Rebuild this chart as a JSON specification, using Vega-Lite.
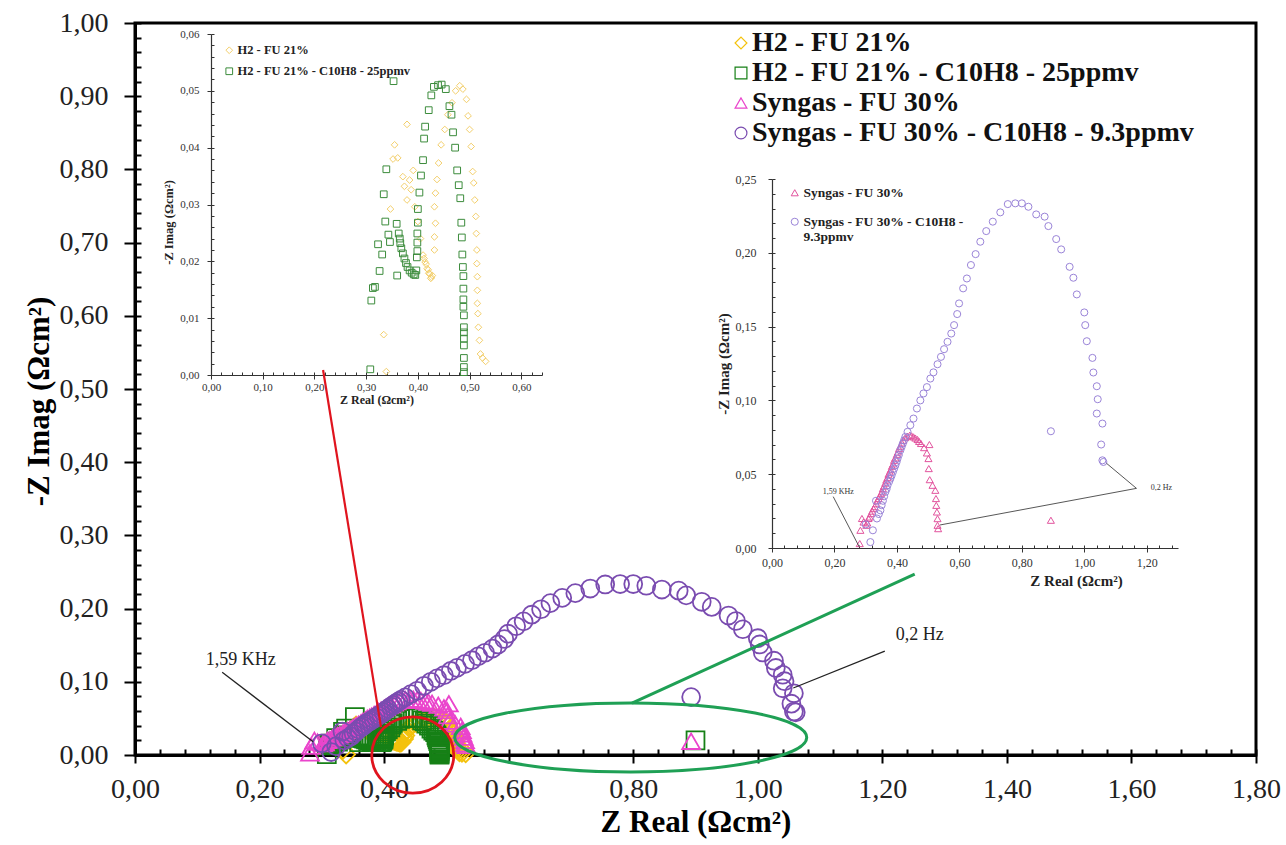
{
"$schema":"https://vega.github.io/schema/vega-lite/v6.json",
"width":1121,"height":732,
"autosize":"none",
"padding":{"left":135,"top":23,"right":30,"bottom":90},
"background":"white",
"config":{"view":{"stroke":"black","strokeWidth":3},"font":"Liberation Serif"},
"datasets":{
"eis":[
{"zr":0.334,"zi":0.0071,"s":"H2 - FU 21%"},{"zr":0.339,"zi":0.0006,"s":"H2 - FU 21%"},{"zr":0.347,"zi":0.0292,"s":"H2 - FU 21%"},{"zr":0.352,"zi":0.038,"s":"H2 - FU 21%"},{"zr":0.355,"zi":0.0405,"s":"H2 - FU 21%"},{"zr":0.361,"zi":0.0382,"s":"H2 - FU 21%"},{"zr":0.371,"zi":0.0349,"s":"H2 - FU 21%"},{"zr":0.374,"zi":0.0332,"s":"H2 - FU 21%"},{"zr":0.379,"zi":0.0441,"s":"H2 - FU 21%"},{"zr":0.379,"zi":0.0308,"s":"H2 - FU 21%"},{"zr":0.384,"zi":0.0343,"s":"H2 - FU 21%"},{"zr":0.387,"zi":0.0326,"s":"H2 - FU 21%"},{"zr":0.391,"zi":0.036,"s":"H2 - FU 21%"},{"zr":0.394,"zi":0.0296,"s":"H2 - FU 21%"},{"zr":0.4,"zi":0.027,"s":"H2 - FU 21%"},{"zr":0.405,"zi":0.024,"s":"H2 - FU 21%"},{"zr":0.41,"zi":0.0211,"s":"H2 - FU 21%"},{"zr":0.412,"zi":0.0205,"s":"H2 - FU 21%"},{"zr":0.414,"zi":0.0199,"s":"H2 - FU 21%"},{"zr":0.416,"zi":0.0195,"s":"H2 - FU 21%"},{"zr":0.418,"zi":0.0187,"s":"H2 - FU 21%"},{"zr":0.42,"zi":0.0185,"s":"H2 - FU 21%"},{"zr":0.421,"zi":0.0179,"s":"H2 - FU 21%"},{"zr":0.423,"zi":0.0178,"s":"H2 - FU 21%"},{"zr":0.425,"zi":0.017,"s":"H2 - FU 21%"},{"zr":0.426,"zi":0.0172,"s":"H2 - FU 21%"},{"zr":0.428,"zi":0.0175,"s":"H2 - FU 21%"},{"zr":0.432,"zi":0.022,"s":"H2 - FU 21%"},{"zr":0.432,"zi":0.0243,"s":"H2 - FU 21%"},{"zr":0.434,"zi":0.0267,"s":"H2 - FU 21%"},{"zr":0.432,"zi":0.0296,"s":"H2 - FU 21%"},{"zr":0.434,"zi":0.032,"s":"H2 - FU 21%"},{"zr":0.437,"zi":0.0344,"s":"H2 - FU 21%"},{"zr":0.44,"zi":0.0373,"s":"H2 - FU 21%"},{"zr":0.445,"zi":0.0405,"s":"H2 - FU 21%"},{"zr":0.452,"zi":0.0432,"s":"H2 - FU 21%"},{"zr":0.458,"zi":0.0458,"s":"H2 - FU 21%"},{"zr":0.466,"zi":0.0479,"s":"H2 - FU 21%"},{"zr":0.473,"zi":0.05,"s":"H2 - FU 21%"},{"zr":0.481,"zi":0.0509,"s":"H2 - FU 21%"},{"zr":0.487,"zi":0.0503,"s":"H2 - FU 21%"},{"zr":0.494,"zi":0.0485,"s":"H2 - FU 21%"},{"zr":0.497,"zi":0.0456,"s":"H2 - FU 21%"},{"zr":0.5,"zi":0.0432,"s":"H2 - FU 21%"},{"zr":0.503,"zi":0.0402,"s":"H2 - FU 21%"},{"zr":0.506,"zi":0.0358,"s":"H2 - FU 21%"},{"zr":0.508,"zi":0.0338,"s":"H2 - FU 21%"},{"zr":0.51,"zi":0.0308,"s":"H2 - FU 21%"},{"zr":0.512,"zi":0.0279,"s":"H2 - FU 21%"},{"zr":0.513,"zi":0.0249,"s":"H2 - FU 21%"},{"zr":0.514,"zi":0.022,"s":"H2 - FU 21%"},{"zr":0.514,"zi":0.0196,"s":"H2 - FU 21%"},{"zr":0.515,"zi":0.0173,"s":"H2 - FU 21%"},{"zr":0.515,"zi":0.0149,"s":"H2 - FU 21%"},{"zr":0.515,"zi":0.0126,"s":"H2 - FU 21%"},{"zr":0.516,"zi":0.0108,"s":"H2 - FU 21%"},{"zr":0.517,"zi":0.0084,"s":"H2 - FU 21%"},{"zr":0.519,"zi":0.0061,"s":"H2 - FU 21%"},{"zr":0.521,"zi":0.0037,"s":"H2 - FU 21%"},{"zr":0.525,"zi":0.003,"s":"H2 - FU 21%"},{"zr":0.531,"zi":0.0024,"s":"H2 - FU 21%"},
{"zr":0.308,"zi":0.001,"s":"H2 - FU 21% - C10H8 - 25ppmv"},{"zr":0.31,"zi":0.0131,"s":"H2 - FU 21% - C10H8 - 25ppmv"},{"zr":0.313,"zi":0.0153,"s":"H2 - FU 21% - C10H8 - 25ppmv"},{"zr":0.317,"zi":0.0155,"s":"H2 - FU 21% - C10H8 - 25ppmv"},{"zr":0.323,"zi":0.023,"s":"H2 - FU 21% - C10H8 - 25ppmv"},{"zr":0.326,"zi":0.0183,"s":"H2 - FU 21% - C10H8 - 25ppmv"},{"zr":0.331,"zi":0.0212,"s":"H2 - FU 21% - C10H8 - 25ppmv"},{"zr":0.334,"zi":0.0318,"s":"H2 - FU 21% - C10H8 - 25ppmv"},{"zr":0.337,"zi":0.027,"s":"H2 - FU 21% - C10H8 - 25ppmv"},{"zr":0.339,"zi":0.0362,"s":"H2 - FU 21% - C10H8 - 25ppmv"},{"zr":0.343,"zi":0.0247,"s":"H2 - FU 21% - C10H8 - 25ppmv"},{"zr":0.346,"zi":0.0234,"s":"H2 - FU 21% - C10H8 - 25ppmv"},{"zr":0.353,"zi":0.0517,"s":"H2 - FU 21% - C10H8 - 25ppmv"},{"zr":0.359,"zi":0.0266,"s":"H2 - FU 21% - C10H8 - 25ppmv"},{"zr":0.36,"zi":0.0175,"s":"H2 - FU 21% - C10H8 - 25ppmv"},{"zr":0.363,"zi":0.0249,"s":"H2 - FU 21% - C10H8 - 25ppmv"},{"zr":0.365,"zi":0.024,"s":"H2 - FU 21% - C10H8 - 25ppmv"},{"zr":0.366,"zi":0.0232,"s":"H2 - FU 21% - C10H8 - 25ppmv"},{"zr":0.368,"zi":0.0223,"s":"H2 - FU 21% - C10H8 - 25ppmv"},{"zr":0.371,"zi":0.0214,"s":"H2 - FU 21% - C10H8 - 25ppmv"},{"zr":0.374,"zi":0.0205,"s":"H2 - FU 21% - C10H8 - 25ppmv"},{"zr":0.377,"zi":0.0197,"s":"H2 - FU 21% - C10H8 - 25ppmv"},{"zr":0.38,"zi":0.019,"s":"H2 - FU 21% - C10H8 - 25ppmv"},{"zr":0.384,"zi":0.0184,"s":"H2 - FU 21% - C10H8 - 25ppmv"},{"zr":0.388,"zi":0.018,"s":"H2 - FU 21% - C10H8 - 25ppmv"},{"zr":0.392,"zi":0.0177,"s":"H2 - FU 21% - C10H8 - 25ppmv"},{"zr":0.395,"zi":0.0176,"s":"H2 - FU 21% - C10H8 - 25ppmv"},{"zr":0.397,"zi":0.0184,"s":"H2 - FU 21% - C10H8 - 25ppmv"},{"zr":0.398,"zi":0.0207,"s":"H2 - FU 21% - C10H8 - 25ppmv"},{"zr":0.399,"zi":0.0218,"s":"H2 - FU 21% - C10H8 - 25ppmv"},{"zr":0.399,"zi":0.0233,"s":"H2 - FU 21% - C10H8 - 25ppmv"},{"zr":0.399,"zi":0.0249,"s":"H2 - FU 21% - C10H8 - 25ppmv"},{"zr":0.4,"zi":0.0268,"s":"H2 - FU 21% - C10H8 - 25ppmv"},{"zr":0.4,"zi":0.0292,"s":"H2 - FU 21% - C10H8 - 25ppmv"},{"zr":0.403,"zi":0.0321,"s":"H2 - FU 21% - C10H8 - 25ppmv"},{"zr":0.406,"zi":0.0351,"s":"H2 - FU 21% - C10H8 - 25ppmv"},{"zr":0.41,"zi":0.0378,"s":"H2 - FU 21% - C10H8 - 25ppmv"},{"zr":0.412,"zi":0.0416,"s":"H2 - FU 21% - C10H8 - 25ppmv"},{"zr":0.414,"zi":0.0437,"s":"H2 - FU 21% - C10H8 - 25ppmv"},{"zr":0.421,"zi":0.0466,"s":"H2 - FU 21% - C10H8 - 25ppmv"},{"zr":0.426,"zi":0.0492,"s":"H2 - FU 21% - C10H8 - 25ppmv"},{"zr":0.431,"zi":0.0507,"s":"H2 - FU 21% - C10H8 - 25ppmv"},{"zr":0.439,"zi":0.051,"s":"H2 - FU 21% - C10H8 - 25ppmv"},{"zr":0.446,"zi":0.0511,"s":"H2 - FU 21% - C10H8 - 25ppmv"},{"zr":0.454,"zi":0.0503,"s":"H2 - FU 21% - C10H8 - 25ppmv"},{"zr":0.461,"zi":0.0473,"s":"H2 - FU 21% - C10H8 - 25ppmv"},{"zr":0.465,"zi":0.0458,"s":"H2 - FU 21% - C10H8 - 25ppmv"},{"zr":0.468,"zi":0.0427,"s":"H2 - FU 21% - C10H8 - 25ppmv"},{"zr":0.472,"zi":0.04,"s":"H2 - FU 21% - C10H8 - 25ppmv"},{"zr":0.476,"zi":0.036,"s":"H2 - FU 21% - C10H8 - 25ppmv"},{"zr":0.479,"zi":0.0334,"s":"H2 - FU 21% - C10H8 - 25ppmv"},{"zr":0.482,"zi":0.0311,"s":"H2 - FU 21% - C10H8 - 25ppmv"},{"zr":0.484,"zi":0.0268,"s":"H2 - FU 21% - C10H8 - 25ppmv"},{"zr":0.485,"zi":0.0242,"s":"H2 - FU 21% - C10H8 - 25ppmv"},{"zr":0.486,"zi":0.0212,"s":"H2 - FU 21% - C10H8 - 25ppmv"},{"zr":0.487,"zi":0.019,"s":"H2 - FU 21% - C10H8 - 25ppmv"},{"zr":0.488,"zi":0.0174,"s":"H2 - FU 21% - C10H8 - 25ppmv"},{"zr":0.488,"zi":0.0152,"s":"H2 - FU 21% - C10H8 - 25ppmv"},{"zr":0.488,"zi":0.0133,"s":"H2 - FU 21% - C10H8 - 25ppmv"},{"zr":0.488,"zi":0.012,"s":"H2 - FU 21% - C10H8 - 25ppmv"},{"zr":0.489,"zi":0.0105,"s":"H2 - FU 21% - C10H8 - 25ppmv"},{"zr":0.489,"zi":0.0084,"s":"H2 - FU 21% - C10H8 - 25ppmv"},{"zr":0.489,"zi":0.0075,"s":"H2 - FU 21% - C10H8 - 25ppmv"},{"zr":0.489,"zi":0.0064,"s":"H2 - FU 21% - C10H8 - 25ppmv"},{"zr":0.489,"zi":0.0052,"s":"H2 - FU 21% - C10H8 - 25ppmv"},{"zr":0.489,"zi":0.003,"s":"H2 - FU 21% - C10H8 - 25ppmv"},{"zr":0.489,"zi":0.0014,"s":"H2 - FU 21% - C10H8 - 25ppmv"},{"zr":0.489,"zi":0.0005,"s":"H2 - FU 21% - C10H8 - 25ppmv"},{"zr":0.9,"zi":0.02,"s":"H2 - FU 21% - C10H8 - 25ppmv"},
{"zr":0.281,"zi":0.003,"s":"Syngas - FU 30%"},{"zr":0.283,"zi":0.012,"s":"Syngas - FU 30%"},{"zr":0.288,"zi":0.02,"s":"Syngas - FU 30%"},{"zr":0.293,"zi":0.0176,"s":"Syngas - FU 30%"},{"zr":0.302,"zi":0.0154,"s":"Syngas - FU 30%"},{"zr":0.305,"zi":0.017,"s":"Syngas - FU 30%"},{"zr":0.309,"zi":0.02,"s":"Syngas - FU 30%"},{"zr":0.313,"zi":0.021,"s":"Syngas - FU 30%"},{"zr":0.317,"zi":0.0233,"s":"Syngas - FU 30%"},{"zr":0.321,"zi":0.025,"s":"Syngas - FU 30%"},{"zr":0.325,"zi":0.0267,"s":"Syngas - FU 30%"},{"zr":0.329,"zi":0.028,"s":"Syngas - FU 30%"},{"zr":0.334,"zi":0.03,"s":"Syngas - FU 30%"},{"zr":0.337,"zi":0.032,"s":"Syngas - FU 30%"},{"zr":0.341,"zi":0.0335,"s":"Syngas - FU 30%"},{"zr":0.345,"zi":0.035,"s":"Syngas - FU 30%"},{"zr":0.349,"zi":0.0368,"s":"Syngas - FU 30%"},{"zr":0.352,"zi":0.038,"s":"Syngas - FU 30%"},{"zr":0.355,"zi":0.0402,"s":"Syngas - FU 30%"},{"zr":0.359,"zi":0.042,"s":"Syngas - FU 30%"},{"zr":0.363,"zi":0.044,"s":"Syngas - FU 30%"},{"zr":0.366,"zi":0.046,"s":"Syngas - FU 30%"},{"zr":0.37,"zi":0.0477,"s":"Syngas - FU 30%"},{"zr":0.373,"zi":0.05,"s":"Syngas - FU 30%"},{"zr":0.377,"zi":0.0515,"s":"Syngas - FU 30%"},{"zr":0.38,"zi":0.053,"s":"Syngas - FU 30%"},{"zr":0.384,"zi":0.0554,"s":"Syngas - FU 30%"},{"zr":0.388,"zi":0.057,"s":"Syngas - FU 30%"},{"zr":0.391,"zi":0.0594,"s":"Syngas - FU 30%"},{"zr":0.395,"zi":0.061,"s":"Syngas - FU 30%"},{"zr":0.4,"zi":0.0635,"s":"Syngas - FU 30%"},{"zr":0.403,"zi":0.065,"s":"Syngas - FU 30%"},{"zr":0.407,"zi":0.0674,"s":"Syngas - FU 30%"},{"zr":0.411,"zi":0.069,"s":"Syngas - FU 30%"},{"zr":0.416,"zi":0.0712,"s":"Syngas - FU 30%"},{"zr":0.42,"zi":0.073,"s":"Syngas - FU 30%"},{"zr":0.427,"zi":0.0748,"s":"Syngas - FU 30%"},{"zr":0.434,"zi":0.0758,"s":"Syngas - FU 30%"},{"zr":0.441,"zi":0.0764,"s":"Syngas - FU 30%"},{"zr":0.447,"zi":0.076,"s":"Syngas - FU 30%"},{"zr":0.453,"zi":0.0753,"s":"Syngas - FU 30%"},{"zr":0.459,"zi":0.0745,"s":"Syngas - FU 30%"},{"zr":0.466,"zi":0.0735,"s":"Syngas - FU 30%"},{"zr":0.471,"zi":0.0722,"s":"Syngas - FU 30%"},{"zr":0.477,"zi":0.0708,"s":"Syngas - FU 30%"},{"zr":0.487,"zi":0.068,"s":"Syngas - FU 30%"},{"zr":0.496,"zi":0.0644,"s":"Syngas - FU 30%"},{"zr":0.504,"zi":0.0701,"s":"Syngas - FU 30%"},{"zr":0.501,"zi":0.0606,"s":"Syngas - FU 30%"},{"zr":0.502,"zi":0.0538,"s":"Syngas - FU 30%"},{"zr":0.505,"zi":0.0463,"s":"Syngas - FU 30%"},{"zr":0.514,"zi":0.0425,"s":"Syngas - FU 30%"},{"zr":0.523,"zi":0.0391,"s":"Syngas - FU 30%"},{"zr":0.525,"zi":0.0335,"s":"Syngas - FU 30%"},{"zr":0.526,"zi":0.0289,"s":"Syngas - FU 30%"},{"zr":0.528,"zi":0.0244,"s":"Syngas - FU 30%"},{"zr":0.53,"zi":0.0199,"s":"Syngas - FU 30%"},{"zr":0.53,"zi":0.0154,"s":"Syngas - FU 30%"},{"zr":0.532,"zi":0.0131,"s":"Syngas - FU 30%"},{"zr":0.893,"zi":0.0188,"s":"Syngas - FU 30%"},
{"zr":0.3,"zi":0.016,"s":"Syngas - FU 30% - C10H8 - 9.3ppmv"},{"zr":0.315,"zi":0.004,"s":"Syngas - FU 30% - C10H8 - 9.3ppmv"},{"zr":0.323,"zi":0.012,"s":"Syngas - FU 30% - C10H8 - 9.3ppmv"},{"zr":0.333,"zi":0.032,"s":"Syngas - FU 30% - C10H8 - 9.3ppmv"},{"zr":0.336,"zi":0.02,"s":"Syngas - FU 30% - C10H8 - 9.3ppmv"},{"zr":0.342,"zi":0.023,"s":"Syngas - FU 30% - C10H8 - 9.3ppmv"},{"zr":0.347,"zi":0.0255,"s":"Syngas - FU 30% - C10H8 - 9.3ppmv"},{"zr":0.351,"zi":0.029,"s":"Syngas - FU 30% - C10H8 - 9.3ppmv"},{"zr":0.355,"zi":0.032,"s":"Syngas - FU 30% - C10H8 - 9.3ppmv"},{"zr":0.359,"zi":0.035,"s":"Syngas - FU 30% - C10H8 - 9.3ppmv"},{"zr":0.363,"zi":0.038,"s":"Syngas - FU 30% - C10H8 - 9.3ppmv"},{"zr":0.367,"zi":0.04,"s":"Syngas - FU 30% - C10H8 - 9.3ppmv"},{"zr":0.37,"zi":0.0425,"s":"Syngas - FU 30% - C10H8 - 9.3ppmv"},{"zr":0.375,"zi":0.045,"s":"Syngas - FU 30% - C10H8 - 9.3ppmv"},{"zr":0.379,"zi":0.047,"s":"Syngas - FU 30% - C10H8 - 9.3ppmv"},{"zr":0.383,"zi":0.0492,"s":"Syngas - FU 30% - C10H8 - 9.3ppmv"},{"zr":0.387,"zi":0.0515,"s":"Syngas - FU 30% - C10H8 - 9.3ppmv"},{"zr":0.391,"zi":0.0538,"s":"Syngas - FU 30% - C10H8 - 9.3ppmv"},{"zr":0.395,"zi":0.056,"s":"Syngas - FU 30% - C10H8 - 9.3ppmv"},{"zr":0.399,"zi":0.0583,"s":"Syngas - FU 30% - C10H8 - 9.3ppmv"},{"zr":0.402,"zi":0.0606,"s":"Syngas - FU 30% - C10H8 - 9.3ppmv"},{"zr":0.406,"zi":0.063,"s":"Syngas - FU 30% - C10H8 - 9.3ppmv"},{"zr":0.411,"zi":0.0662,"s":"Syngas - FU 30% - C10H8 - 9.3ppmv"},{"zr":0.415,"zi":0.0685,"s":"Syngas - FU 30% - C10H8 - 9.3ppmv"},{"zr":0.419,"zi":0.0708,"s":"Syngas - FU 30% - C10H8 - 9.3ppmv"},{"zr":0.423,"zi":0.073,"s":"Syngas - FU 30% - C10H8 - 9.3ppmv"},{"zr":0.427,"zi":0.0753,"s":"Syngas - FU 30% - C10H8 - 9.3ppmv"},{"zr":0.434,"zi":0.0787,"s":"Syngas - FU 30% - C10H8 - 9.3ppmv"},{"zr":0.443,"zi":0.0832,"s":"Syngas - FU 30% - C10H8 - 9.3ppmv"},{"zr":0.453,"zi":0.0877,"s":"Syngas - FU 30% - C10H8 - 9.3ppmv"},{"zr":0.464,"zi":0.0945,"s":"Syngas - FU 30% - C10H8 - 9.3ppmv"},{"zr":0.475,"zi":0.1,"s":"Syngas - FU 30% - C10H8 - 9.3ppmv"},{"zr":0.485,"zi":0.1047,"s":"Syngas - FU 30% - C10H8 - 9.3ppmv"},{"zr":0.496,"zi":0.109,"s":"Syngas - FU 30% - C10H8 - 9.3ppmv"},{"zr":0.507,"zi":0.1148,"s":"Syngas - FU 30% - C10H8 - 9.3ppmv"},{"zr":0.517,"zi":0.119,"s":"Syngas - FU 30% - C10H8 - 9.3ppmv"},{"zr":0.53,"zi":0.1245,"s":"Syngas - FU 30% - C10H8 - 9.3ppmv"},{"zr":0.541,"zi":0.1295,"s":"Syngas - FU 30% - C10H8 - 9.3ppmv"},{"zr":0.551,"zi":0.1347,"s":"Syngas - FU 30% - C10H8 - 9.3ppmv"},{"zr":0.562,"zi":0.1397,"s":"Syngas - FU 30% - C10H8 - 9.3ppmv"},{"zr":0.574,"zi":0.1453,"s":"Syngas - FU 30% - C10H8 - 9.3ppmv"},{"zr":0.583,"zi":0.151,"s":"Syngas - FU 30% - C10H8 - 9.3ppmv"},{"zr":0.593,"zi":0.1585,"s":"Syngas - FU 30% - C10H8 - 9.3ppmv"},{"zr":0.599,"zi":0.1657,"s":"Syngas - FU 30% - C10H8 - 9.3ppmv"},{"zr":0.612,"zi":0.1759,"s":"Syngas - FU 30% - C10H8 - 9.3ppmv"},{"zr":0.624,"zi":0.1826,"s":"Syngas - FU 30% - C10H8 - 9.3ppmv"},{"zr":0.637,"zi":0.1917,"s":"Syngas - FU 30% - C10H8 - 9.3ppmv"},{"zr":0.652,"zi":0.1991,"s":"Syngas - FU 30% - C10H8 - 9.3ppmv"},{"zr":0.667,"zi":0.2075,"s":"Syngas - FU 30% - C10H8 - 9.3ppmv"},{"zr":0.686,"zi":0.2147,"s":"Syngas - FU 30% - C10H8 - 9.3ppmv"},{"zr":0.707,"zi":0.2211,"s":"Syngas - FU 30% - C10H8 - 9.3ppmv"},{"zr":0.731,"zi":0.2274,"s":"Syngas - FU 30% - C10H8 - 9.3ppmv"},{"zr":0.755,"zi":0.233,"s":"Syngas - FU 30% - C10H8 - 9.3ppmv"},{"zr":0.779,"zi":0.2335,"s":"Syngas - FU 30% - C10H8 - 9.3ppmv"},{"zr":0.8,"zi":0.2335,"s":"Syngas - FU 30% - C10H8 - 9.3ppmv"},{"zr":0.821,"zi":0.2312,"s":"Syngas - FU 30% - C10H8 - 9.3ppmv"},{"zr":0.846,"zi":0.226,"s":"Syngas - FU 30% - C10H8 - 9.3ppmv"},{"zr":0.873,"zi":0.2245,"s":"Syngas - FU 30% - C10H8 - 9.3ppmv"},{"zr":0.885,"zi":0.2181,"s":"Syngas - FU 30% - C10H8 - 9.3ppmv"},{"zr":0.91,"zi":0.2093,"s":"Syngas - FU 30% - C10H8 - 9.3ppmv"},{"zr":0.926,"zi":0.2023,"s":"Syngas - FU 30% - C10H8 - 9.3ppmv"},{"zr":0.953,"zi":0.1905,"s":"Syngas - FU 30% - C10H8 - 9.3ppmv"},{"zr":0.965,"zi":0.1831,"s":"Syngas - FU 30% - C10H8 - 9.3ppmv"},{"zr":0.976,"zi":0.1718,"s":"Syngas - FU 30% - C10H8 - 9.3ppmv"},{"zr":1.0,"zi":0.1596,"s":"Syngas - FU 30% - C10H8 - 9.3ppmv"},{"zr":1.003,"zi":0.151,"s":"Syngas - FU 30% - C10H8 - 9.3ppmv"},{"zr":1.008,"zi":0.1401,"s":"Syngas - FU 30% - C10H8 - 9.3ppmv"},{"zr":1.026,"zi":0.1288,"s":"Syngas - FU 30% - C10H8 - 9.3ppmv"},{"zr":1.029,"zi":0.1189,"s":"Syngas - FU 30% - C10H8 - 9.3ppmv"},{"zr":1.04,"zi":0.1096,"s":"Syngas - FU 30% - C10H8 - 9.3ppmv"},{"zr":1.043,"zi":0.1008,"s":"Syngas - FU 30% - C10H8 - 9.3ppmv"},{"zr":1.04,"zi":0.0911,"s":"Syngas - FU 30% - C10H8 - 9.3ppmv"},{"zr":1.058,"zi":0.0843,"s":"Syngas - FU 30% - C10H8 - 9.3ppmv"},{"zr":1.054,"zi":0.0701,"s":"Syngas - FU 30% - C10H8 - 9.3ppmv"},{"zr":1.058,"zi":0.0594,"s":"Syngas - FU 30% - C10H8 - 9.3ppmv"},{"zr":1.061,"zi":0.0583,"s":"Syngas - FU 30% - C10H8 - 9.3ppmv"},{"zr":0.893,"zi":0.0791,"s":"Syngas - FU 30% - C10H8 - 9.3ppmv"}
],
"leaders":[
{"x1":0.14,"y1":0.113,"x2":0.286,"y2":0.018,"p":"main"},
{"x1":1.204,"y1":0.142,"x2":1.057,"y2":0.0915,"p":"main"},
{"x1":0.196,"y1":0.0348,"x2":0.279,"y2":0.0009,"p":"inset2"},
{"x1":1.167,"y1":0.0404,"x2":1.071,"y2":0.0574,"p":"inset2"},
{"x1":1.167,"y1":0.0404,"x2":0.538,"y2":0.0156,"p":"inset2"}
],
"callouts":[
{"x1":0.302,"y1":0.526,"x2":0.395,"y2":0.038,"k":"red"},
{"x1":0.798,"y1":0.071,"x2":1.252,"y2":0.247,"k":"green"}
],
"ellipses":[
{"x":0.446,"y":0,"k":"red"},
{"x":0.796,"y":0.024,"k":"green"}
],
"notes":[
{"x":0.17,"y":0.13,"t":"1,59 KHz","p":"main"},
{"x":1.26,"y":0.164,"t":"0,2 Hz","p":"main"},
{"x":0.212,"y":0.0381,"t":"1,59 KHz","p":"inset2"},
{"x":1.247,"y":0.0409,"t":"0,2 Hz","p":"inset2"}
]
},
"layer":[
{
"layer":[
{
"data":{"name":"eis"},
"mark":{"type":"point","filled":false,"size":320,"strokeWidth":1.8,"opacity":1},
"encoding":{
"x":{"field":"zr","type":"quantitative","scale":{"domain":[0,1.8],"nice":false,"zero":false},
"axis":{"orient":"bottom","values":[0,0.2,0.4,0.6,0.8,1,1.2,1.4,1.6,1.8],
"labelExpr":"replace(format(datum.value,'.2f'),'.',',')",
"tickSize":8,"tickWidth":2,"tickColor":"black","domainColor":"black","domainWidth":3,"grid":false,
"labelFont":"Liberation Serif","labelFontSize":28,"labelColor":"#222","labelPadding":12,"labelFlush":false,"labelOverlap":false,
"title":"Z Real (Ωcm²)","titleFont":"Liberation Serif","titleFontSize":31,"titleFontWeight":"bold","titleColor":"black","titlePadding":4}},
"y":{"field":"zi","type":"quantitative","scale":{"domain":[0,1],"nice":false,"zero":false},
"axis":{"orient":"left","values":[0,0.1,0.2,0.3,0.4,0.5,0.6,0.7,0.8,0.9,1],
"labelExpr":"replace(format(datum.value,'.2f'),'.',',')",
"tickSize":11,"tickWidth":2,"tickColor":"black","domainColor":"black","domainWidth":3,"grid":false,
"labelFont":"Liberation Serif","labelFontSize":28,"labelColor":"#222","labelPadding":16,"labelFlush":false,"labelOverlap":false,
"title":"-Z Imag (Ωcm²)","titleY":378,"titleFont":"Liberation Serif","titleFontSize":31,"titleFontWeight":"bold","titleColor":"black","titlePadding":4}},
"color":{"field":"s","type":"nominal","scale":{"domain":["H2 - FU 21%","H2 - FU 21% - C10H8 - 25ppmv","Syngas - FU 30%","Syngas - FU 30% - C10H8 - 9.3ppmv"],"range":["#f4c20d","#168016","#ea45cc","#7a4cb0"]},
"legend":{"orient":"none","legendX":592,"legendY":6,"title":null,"padding":0,"labelFont":"Liberation Serif","labelFontSize":28,"labelFontWeight":"bold","labelColor":"#111","labelLimit":700,"symbolSize":140,"symbolStrokeWidth":1.2,"rowPadding":2,"labelOffset":-3}},
"shape":{"field":"s","type":"nominal","scale":{"domain":["H2 - FU 21%","H2 - FU 21% - C10H8 - 25ppmv","Syngas - FU 30%","Syngas - FU 30% - C10H8 - 9.3ppmv"],"range":["diamond","square","triangle-up","circle"]}}
}
},
{
"data":{"name":"callouts"},"transform":[{"filter":"datum.k=='red'"}],
"mark":{"type":"rule","color":"#e0141e","strokeWidth":2.2},
"encoding":{"x":{"field":"x1","type":"quantitative","scale":{"domain":[0,1.8],"nice":false,"zero":false}},"y":{"field":"y1","type":"quantitative","scale":{"domain":[0,1],"nice":false,"zero":false}},"x2":{"field":"x2"},"y2":{"field":"y2"}}
},
{
"data":{"name":"callouts"},"transform":[{"filter":"datum.k=='green'"}],
"mark":{"type":"rule","color":"#1fa055","strokeWidth":3},
"encoding":{"x":{"field":"x1","type":"quantitative","scale":{"domain":[0,1.8],"nice":false,"zero":false}},"y":{"field":"y1","type":"quantitative","scale":{"domain":[0,1],"nice":false,"zero":false}},"x2":{"field":"x2"},"y2":{"field":"y2"}}
},
{
"data":{"name":"leaders"},"transform":[{"filter":"datum.p=='main'"}],
"mark":{"type":"rule","color":"#222","strokeWidth":1.3},
"encoding":{"x":{"field":"x1","type":"quantitative","scale":{"domain":[0,1.8],"nice":false,"zero":false}},"y":{"field":"y1","type":"quantitative","scale":{"domain":[0,1],"nice":false,"zero":false}},"x2":{"field":"x2"},"y2":{"field":"y2"}}
},
{
"data":{"name":"ellipses"},"transform":[{"filter":"datum.k=='red'"}],
"mark":{"type":"point","shape":"M-1,0C-1,-0.514,-0.552,-0.93,0,-0.93C0.552,-0.93,1,-0.514,1,0C1,0.514,0.552,0.93,0,0.93C-0.552,0.93,-1,0.514,-1,0Z","size":6724,"filled":false,"stroke":"#e0141e","strokeWidth":2.8,"opacity":1,"clip":false},
"encoding":{"x":{"field":"x","type":"quantitative","scale":{"domain":[0,1.8],"nice":false,"zero":false}},"y":{"field":"y","type":"quantitative","scale":{"domain":[0,1],"nice":false,"zero":false}}}
},
{
"data":{"name":"ellipses"},"transform":[{"filter":"datum.k=='green'"}],
"mark":{"type":"point","shape":"M-1,0C-1,-0.108,-0.552,-0.196,0,-0.196C0.552,-0.196,1,-0.108,1,0C1,0.108,0.552,0.196,0,0.196C-0.552,0.196,-1,0.108,-1,0Z","size":123904,"filled":false,"stroke":"#1fa055","strokeWidth":3,"opacity":1,"clip":false},
"encoding":{"x":{"field":"x","type":"quantitative","scale":{"domain":[0,1.8],"nice":false,"zero":false}},"y":{"field":"y","type":"quantitative","scale":{"domain":[0,1],"nice":false,"zero":false}}}
},
{
"data":{"name":"notes"},"transform":[{"filter":"datum.p=='main'"}],
"mark":{"type":"text","font":"Liberation Serif","fontSize":18,"color":"#222"},
"encoding":{"x":{"field":"x","type":"quantitative","scale":{"domain":[0,1.8],"nice":false,"zero":false}},"y":{"field":"y","type":"quantitative","scale":{"domain":[0,1],"nice":false,"zero":false}},"text":{"field":"t"}}
}
]
},
{
"mark":{"type":"point","opacity":0},
"encoding":{
"x":{"datum":0,"type":"quantitative","scale":{"domain":[0,1.8],"nice":false,"zero":false},"axis":{"orient":"bottom","values":[0,0.04,0.08,0.12,0.16,0.2,0.24,0.28,0.32,0.36,0.4,0.44,0.48,0.52,0.56,0.6,0.64,0.68,0.72,0.76,0.8,0.84,0.88,0.92,0.96,1,1.04,1.08,1.12,1.16,1.2,1.24,1.28,1.32,1.36,1.4,1.44,1.48,1.52,1.56,1.6,1.64,1.68,1.72,1.76,1.8],"labels":false,"domain":false,"grid":false,"tickSize":-6,"tickWidth":2,"tickColor":"black","title":null}},
"y":{"datum":0,"type":"quantitative","scale":{"domain":[0,1],"nice":false,"zero":false},"axis":{"orient":"left","values":[0,0.02,0.04,0.06,0.08,0.1,0.12,0.14,0.16,0.18,0.2,0.22,0.24,0.26,0.28,0.3,0.32,0.34,0.36,0.38,0.4,0.42,0.44,0.46,0.48,0.5,0.52,0.54,0.56,0.58,0.6,0.62,0.64,0.66,0.68,0.7,0.72,0.74,0.76,0.78,0.8,0.82,0.84,0.86,0.88,0.9,0.92,0.94,0.96,0.98,1],"labels":false,"domain":false,"grid":false,"tickSize":-6,"tickWidth":2,"tickColor":"black","title":null}}
}
},
{
"layer":[
{
"data":{"name":"eis"},
"transform":[{"filter":"(datum.s=='H2 - FU 21%' || datum.s=='H2 - FU 21% - C10H8 - 25ppmv') && datum.zr<=0.64"}],
"mark":{"type":"point","filled":false,"size":45,"strokeWidth":1,"opacity":1},
"encoding":{
"x":{"field":"zr","type":"quantitative","scale":{"domain":[0,0.64],"range":[76,407],"nice":false,"zero":false},
"axis":{"orient":"bottom","offset":-380,"values":[0,0.1,0.2,0.3,0.4,0.5,0.6],
"labelExpr":"replace(format(datum.value,'.2f'),'.',',')",
"tickSize":4,"tickWidth":1,"tickColor":"#333","domainColor":"#333","domainWidth":1.2,"grid":false,
"labelFont":"Liberation Serif","labelFontSize":11,"labelColor":"#333","labelPadding":2,"labelFlush":false,"labelOverlap":false,
"title":"Z Real (Ωcm²)","titleFont":"Liberation Serif","titleFontSize":12,"titleFontWeight":"bold","titleColor":"#222","titlePadding":2}},
"y":{"field":"zi","type":"quantitative","scale":{"domain":[0,0.06],"range":[352,11],"nice":false,"zero":false},
"axis":{"orient":"left","offset":-76,"values":[0,0.01,0.02,0.03,0.04,0.05,0.06],
"labelExpr":"replace(format(datum.value,'.2f'),'.',',')",
"tickSize":4,"tickWidth":1,"tickColor":"#333","domainColor":"#333","domainWidth":1.2,"grid":false,
"labelFont":"Liberation Serif","labelFontSize":11,"labelColor":"#333","labelPadding":8,"labelFlush":false,"labelOverlap":false,
"title":"-Z Imag (Ωcm²)","titleY":199,"titleFont":"Liberation Serif","titleFontSize":12.5,"titleFontWeight":"bold","titleColor":"#222","titlePadding":4}},
"color":{"field":"s","type":"nominal","scale":{"domain":["H2 - FU 21%","H2 - FU 21% - C10H8 - 25ppmv"],"range":["#f3cf6b","#3c8c3c"]},
"legend":{"orient":"none","legendX":88,"legendY":21,"title":null,"padding":0,"labelFont":"Liberation Serif","labelFontSize":12.5,"labelFontWeight":"bold","labelColor":"#222","labelLimit":400,"symbolSize":45,"symbolStrokeWidth":1,"rowPadding":8,"labelOffset":2}},
"shape":{"field":"s","type":"nominal","scale":{"domain":["H2 - FU 21%","H2 - FU 21% - C10H8 - 25ppmv"],"range":["diamond","square"]}}
}
},
{
"mark":{"type":"rule","color":"#222","strokeWidth":1.5},
"encoding":{"x":{"datum":0,"type":"quantitative","scale":{"domain":[0,0.64],"range":[76,407],"nice":false,"zero":false}},"x2":{"datum":0.64},"y":{"datum":0.06,"type":"quantitative","scale":{"domain":[0,0.06],"range":[352,11],"nice":false,"zero":false}}}
}
]
},
{
"mark":{"type":"point","opacity":0},
"encoding":{
"x":{"datum":0,"type":"quantitative","scale":{"domain":[0,0.64],"range":[76,407],"nice":false,"zero":false},"axis":{"orient":"bottom","offset":-380,"values":[0,0.02,0.04,0.06,0.08,0.1,0.12,0.14,0.16,0.18,0.2,0.22,0.24,0.26,0.28,0.3,0.32,0.34,0.36,0.38,0.4,0.42,0.44,0.46,0.48,0.5,0.52,0.54,0.56,0.58,0.6,0.62,0.64],"labels":false,"domain":false,"grid":false,"tickSize":-3,"tickWidth":1,"tickColor":"#333","title":null}},
"y":{"datum":0,"type":"quantitative","scale":{"domain":[0,0.06],"range":[352,11],"nice":false,"zero":false},"axis":{"orient":"left","offset":-76,"values":[0,0.002,0.004,0.006,0.008,0.01,0.012,0.014,0.016,0.018,0.02,0.022,0.024,0.026,0.028,0.03,0.032,0.034,0.036,0.038,0.04,0.042,0.044,0.046,0.048,0.05,0.052,0.054,0.056,0.058,0.06],"labels":false,"domain":false,"grid":false,"tickSize":-3,"tickWidth":1,"tickColor":"#333","title":null}}
}
},
{
"layer":[
{
"data":{"name":"eis"},
"transform":[{"filter":"datum.s=='Syngas - FU 30%' || datum.s=='Syngas - FU 30% - C10H8 - 9.3ppmv'"}],
"mark":{"type":"point","filled":false,"size":50,"strokeWidth":1,"opacity":1},
"encoding":{
"x":{"field":"zr","type":"quantitative","scale":{"domain":[0,1.3],"range":[637,1043],"nice":false,"zero":false},
"axis":{"orient":"bottom","offset":-207,"values":[0,0.2,0.4,0.6,0.8,1,1.2],
"labelExpr":"replace(format(datum.value,'.2f'),'.',',')",
"tickSize":4,"tickWidth":1,"tickColor":"#333","domainColor":"#333","domainWidth":1.2,"grid":false,
"labelFont":"Liberation Serif","labelFontSize":12,"labelColor":"#333","labelPadding":5,"labelFlush":false,"labelOverlap":false,
"title":"Z Real (Ωcm²)","titleX":941,"titleFont":"Liberation Serif","titleFontSize":15,"titleFontWeight":"bold","titleColor":"#222","titlePadding":5}},
"y":{"field":"zi","type":"quantitative","scale":{"domain":[0,0.25],"range":[525,156],"nice":false,"zero":false},
"axis":{"orient":"left","offset":-637,"values":[0,0.05,0.1,0.15,0.2,0.25],
"labelExpr":"replace(format(datum.value,'.2f'),'.',',')",
"tickSize":4,"tickWidth":1,"tickColor":"#333","domainColor":"#333","domainWidth":1.2,"grid":false,
"labelFont":"Liberation Serif","labelFontSize":12,"labelColor":"#333","labelPadding":12,"labelFlush":false,"labelOverlap":false,
"title":"-Z Imag (Ωcm²)","titleFont":"Liberation Serif","titleFontSize":15,"titleFontWeight":"bold","titleColor":"#222","titlePadding":4}},
"color":{"field":"s","type":"nominal","scale":{"domain":["Syngas - FU 30%","Syngas - FU 30% - C10H8 - 9.3ppmv"],"range":["#e2549e","#9a84d8"]},
"legend":{"orient":"none","legendX":653,"legendY":163,"title":null,"padding":0,"labelFont":"Liberation Serif","labelFontSize":13.5,"labelFontWeight":"bold","labelColor":"#222","labelLimit":400,"symbolSize":50,"symbolStrokeWidth":1,"rowPadding":14,"labelOffset":2,
"labelExpr":"datum.label == 'Syngas - FU 30% - C10H8 - 9.3ppmv' ? ['Syngas - FU 30% - C10H8 -','9.3ppmv'] : datum.label"}},
"shape":{"field":"s","type":"nominal","scale":{"domain":["Syngas - FU 30%","Syngas - FU 30% - C10H8 - 9.3ppmv"],"range":["triangle-up","circle"]}}
}
},
{
"mark":{"type":"rule","color":"#222","strokeWidth":1.5},
"encoding":{"x":{"datum":0,"type":"quantitative","scale":{"domain":[0,1.3],"range":[637,1043],"nice":false,"zero":false}},"x2":{"datum":1.3},"y":{"datum":0.25,"type":"quantitative","scale":{"domain":[0,0.25],"range":[525,156],"nice":false,"zero":false}}}
},
{
"data":{"name":"leaders"},"transform":[{"filter":"datum.p=='inset2'"}],
"mark":{"type":"rule","color":"#444","strokeWidth":0.9},
"encoding":{"x":{"field":"x1","type":"quantitative","scale":{"domain":[0,1.3],"range":[637,1043],"nice":false,"zero":false}},"y":{"field":"y1","type":"quantitative","scale":{"domain":[0,0.25],"range":[525,156],"nice":false,"zero":false}},"x2":{"field":"x2"},"y2":{"field":"y2"}}
},
{
"data":{"name":"notes"},"transform":[{"filter":"datum.p=='inset2'"}],
"mark":{"type":"text","font":"Liberation Serif","fontSize":8,"color":"#333"},
"encoding":{"x":{"field":"x","type":"quantitative","scale":{"domain":[0,1.3],"range":[637,1043],"nice":false,"zero":false}},"y":{"field":"y","type":"quantitative","scale":{"domain":[0,0.25],"range":[525,156],"nice":false,"zero":false}},"text":{"field":"t"}}
}
]
},
{
"mark":{"type":"point","opacity":0},
"encoding":{
"x":{"datum":0,"type":"quantitative","scale":{"domain":[0,1.3],"range":[637,1043],"nice":false,"zero":false},"axis":{"orient":"bottom","offset":-207,"values":[0,0.04,0.08,0.12,0.16,0.2,0.24,0.28,0.32,0.36,0.4,0.44,0.48,0.52,0.56,0.6,0.64,0.68,0.72,0.76,0.8,0.84,0.88,0.92,0.96,1,1.04,1.08,1.12,1.16,1.2,1.24,1.28],"labels":false,"domain":false,"grid":false,"tickSize":-3,"tickWidth":1,"tickColor":"#333","title":null}},
"y":{"datum":0,"type":"quantitative","scale":{"domain":[0,0.25],"range":[525,156],"nice":false,"zero":false},"axis":{"orient":"left","offset":-637,"values":[0,0.01,0.02,0.03,0.04,0.05,0.06,0.07,0.08,0.09,0.1,0.11,0.12,0.13,0.14,0.15,0.16,0.17,0.18,0.19,0.2,0.21,0.22,0.23,0.24,0.25],"labels":false,"domain":false,"grid":false,"tickSize":-3,"tickWidth":1,"tickColor":"#333","title":null}}
}
}
],
"resolve":{"scale":{"x":"independent","y":"independent","color":"independent","shape":"independent"},"axis":{"x":"independent","y":"independent"},"legend":{"color":"independent","shape":"independent"}}
}
